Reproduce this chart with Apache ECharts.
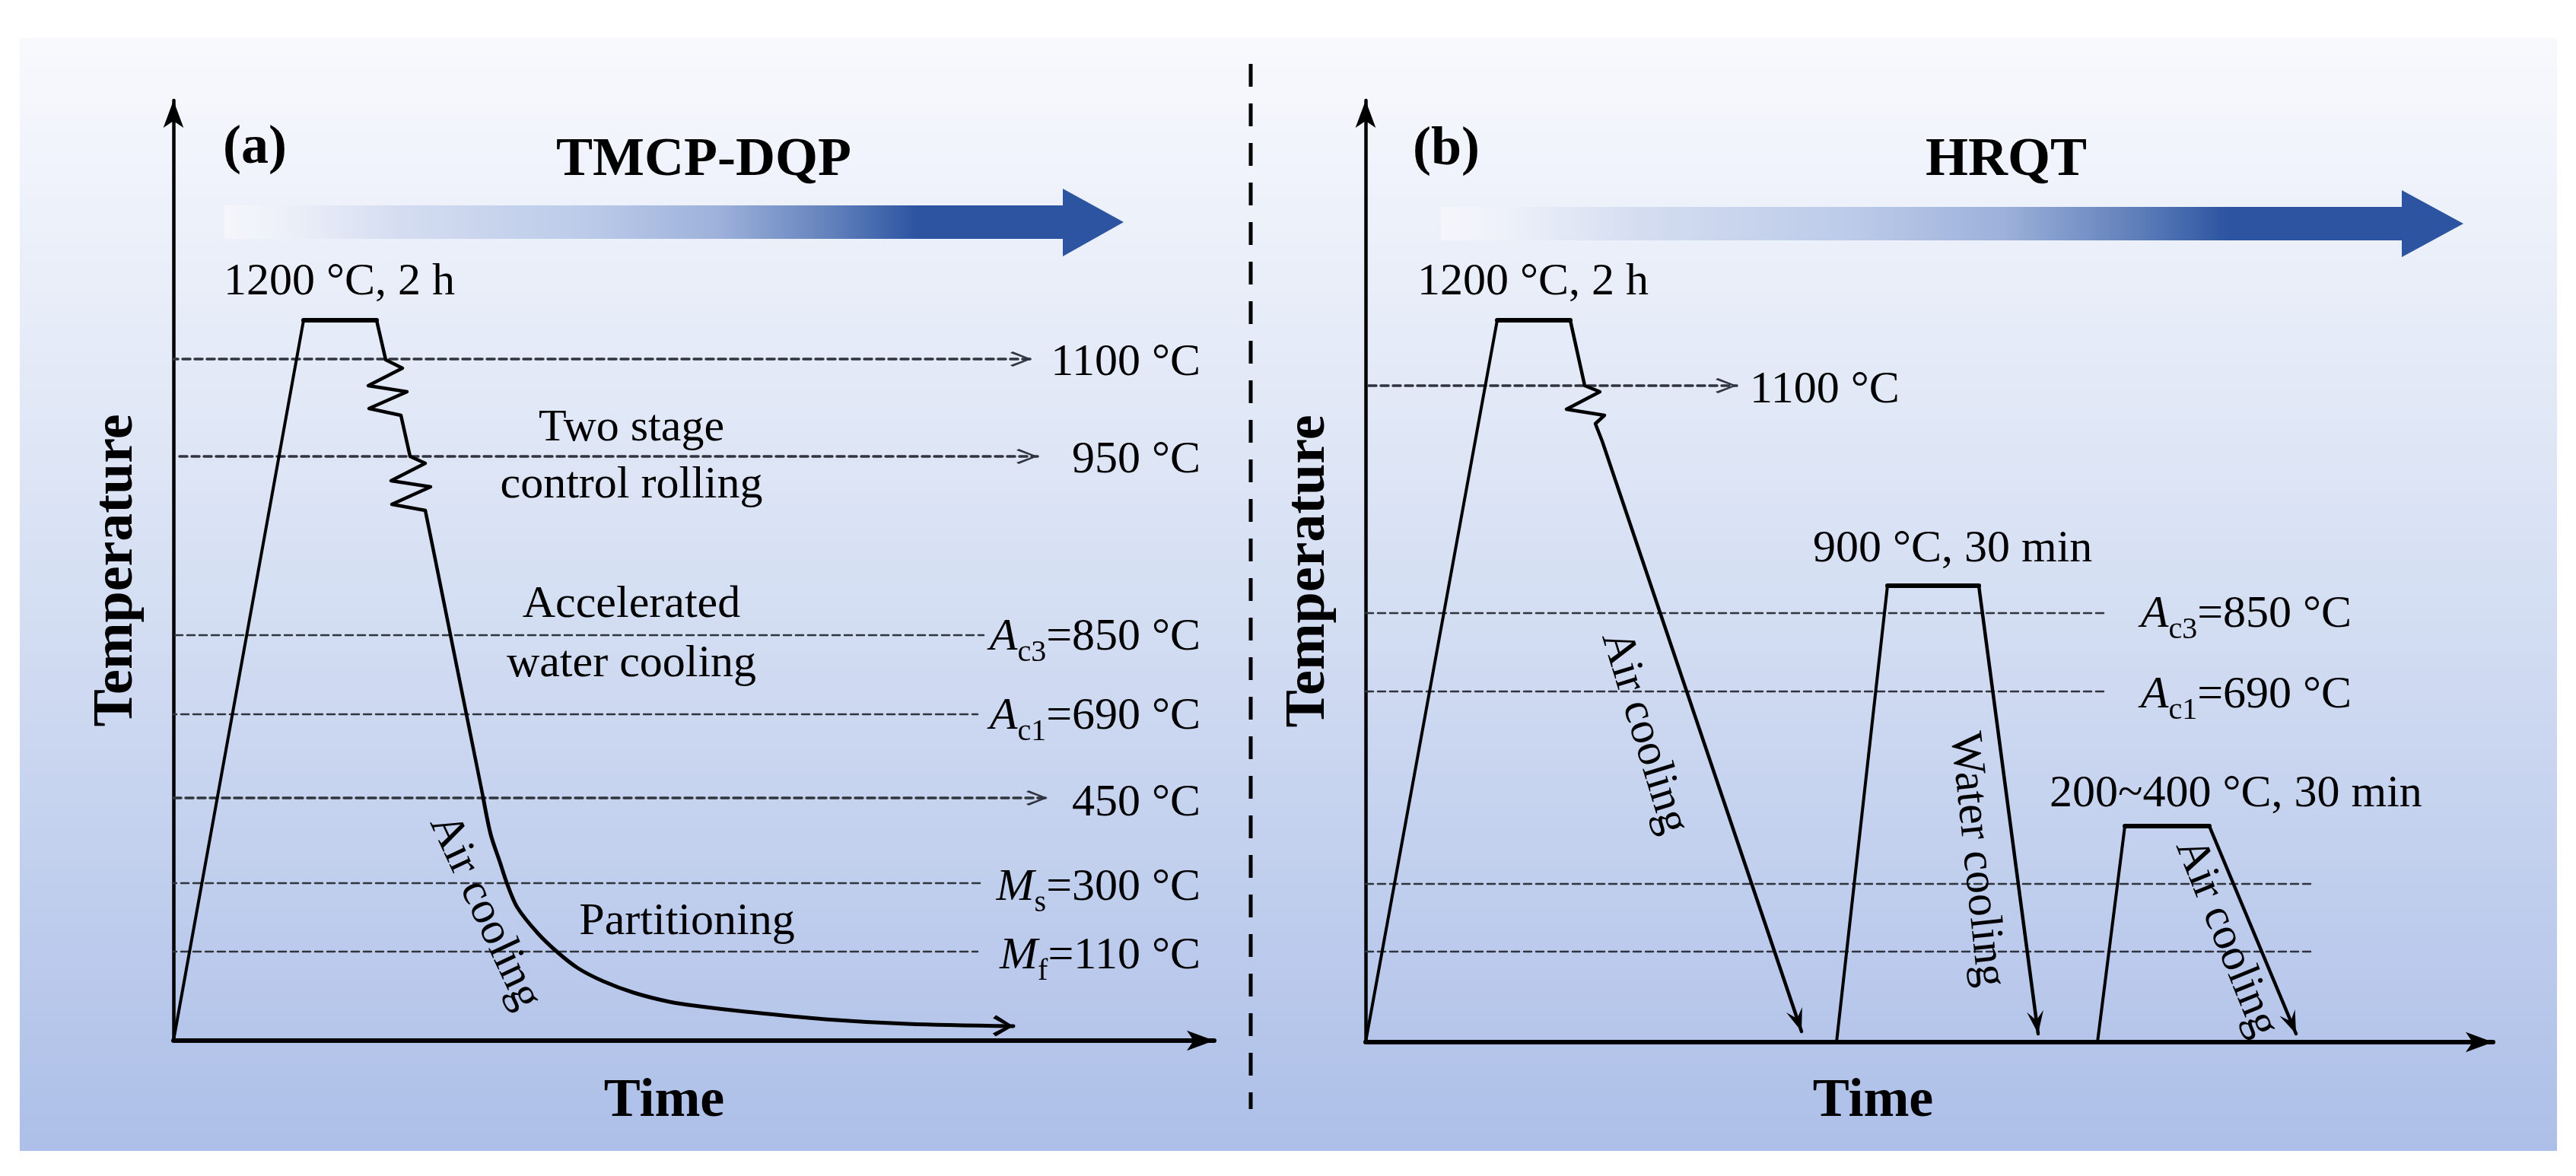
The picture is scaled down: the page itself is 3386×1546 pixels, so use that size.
<!DOCTYPE html>
<html>
<head>
<meta charset="utf-8">
<title>TMCP-DQP and HRQT</title>
<script src="https://cdn.jsdelivr.net/npm/echarts@6/dist/echarts.min.js"></script>
<style>
  html, body { margin: 0; background: #fff; }
  #chart { width: 3386px; height: 1546px; }
</style>
</head>
<body>
<div id="chart"></div>
<script>
// schematic profile: [time, temperature height]
const heatA = [[0, 0], [171, 947]];
const holdA = [[171, 947], [267, 947]];
const rollA = [[267, 947], [279, 895], [301, 884], [256, 861], [307, 853], [257, 831], [299, 822],
    [311, 768], [331, 759], [286, 736], [338, 728], [287, 705], [331, 697], [341, 648], [407, 320]];
const partitionA = [[407, 320], [417, 271], [429, 235], [439, 205], [452, 175], [479, 141], [505, 116],
    [532, 95], [565, 78], [605, 63], [652, 51], [692, 45], [752, 38], [857, 28], [965, 22], [1104, 19]];

const heat1B = [[0, 0], [173, 949]];
const hold1B = [[173, 949], [269, 949]];
const cool1B = [[269, 949], [288, 863], [308, 855], [264, 832], [314, 824], [302, 813], [311, 790], [573, 14]];
const heat2B = [[619, 0], [686, 600]];
const hold2B = [[686, 600], [806, 600]];
const cool2B = [[806, 600], [884, 11]];
const heat3B = [[962, 0], [998, 284]];
const hold3B = [[998, 284], [1109, 284]];
const cool3B = [[1109, 284], [1223, 11]];

// guide lines: height, where they start and stop, and whether they end in an arrow
const guideHeightsA = [896, 768, 533, 429, 319, 207, 117];
const guideStartsA = [-4, 8, 2, -6, 0, -6, -6];
const guideEndsA = [1128, 1136, 1065, 1057, 1149, 1063, 1057];
const guideArrowsA = [true, true, false, false, true, false, false];

const guideHeightsB = [863, 564, 461, 208, 119];
const guideStartsB = [4, 0, 0, 0, 0];
const guideEndsB = [488, 975, 975, 1248, 1248];
const guideArrowsB = [true, false, false, false, false];

const font = '"Liberation Serif", "Times New Roman", serif';

// the box of each path is twice the head length, so its centre sits on the tip
const thinHead = 'path://M10,0 L10,0 Z M10,28 L20,53 L18,56 L10,34 L2,56 L0,53 Z';
const thickHead = 'path://M14,0 L14,0 Z M14,27 L28,50 L24,54 L14,35 L4,54 L0,50 Z';
const barbHead = 'path://M11,0 L11,0 Z M11,30 L22,60 L11,48 L0,60 Z';

function curve(panel, points, width, opts) {
    opts = opts || {};
    const last = points.length - 1;
    const data = points.map((p, i) => {
        if (i < last || !opts.head) return { value: p, symbol: 'none' };
        const prev = points[last - 1];
        const angle = Math.atan2(p[1] - prev[1], p[0] - prev[0]) * 180 / Math.PI - 90;
        return { value: p, symbol: opts.head, symbolSize: opts.headSize, symbolRotate: angle };
    });
    return {
        type: 'line',
        xAxisIndex: panel,
        yAxisIndex: panel,
        data,
        clip: false,
        silent: true,
        showSymbol: true,
        showAllSymbol: true,
        smooth: opts.smooth || false,
        itemStyle: { color: opts.color || '#000', opacity: 1 },
        lineStyle: { color: opts.color || '#000', width, type: opts.dash || 'solid', cap: 'round', join: 'round' },
        z: opts.dash ? 2 : 3,
    };
}

function guides(panel, heights, starts, ends, arrows) {
    return heights.map((h, i) => curve(panel, [[starts[i], h], [ends[i], h]], arrows[i] ? 3.5 : 2.5, {
        color: '#30343e',
        dash: [10, 6],
        head: arrows[i] ? thinHead : null,
        headSize: [20, 56],
    }));
}

const richTemp = {
    n: { fontFamily: font, fontSize: 60, color: '#000', lineHeight: 80 },
    i: { fontFamily: font, fontSize: 60, fontStyle: 'italic', color: '#000', lineHeight: 80 },
    s: { fontFamily: font, fontSize: 40, color: '#000', verticalAlign: 'bottom', lineHeight: 80 },
};

function note(text, x, y, align, rotate, bold) {
    return {
        value: [x, y],
        label: {
            show: true,
            position: 'inside',
            formatter: text,
            align: align,
            verticalAlign: 'middle',
            rotate: rotate || 0,
            fontFamily: font,
            fontSize: bold ? 72 : 60,
            fontWeight: bold ? 'bold' : 'normal',
            color: '#000',
            rich: richTemp,
        },
    };
}

function notes(panel, items) {
    return {
        type: 'scatter',
        xAxisIndex: panel,
        yAxisIndex: panel,
        symbolSize: 1,
        silent: true,
        clip: false,
        itemStyle: { color: 'rgba(0,0,0,0)', opacity: 1 },
        data: items,
        z: 5,
    };
}

function bigArrow(x0, x1, x2, top, bottom, headTop, headBottom) {
    const mid = (top + bottom) / 2;
    return {
        type: 'polygon',
        silent: true,
        z: -5,
        shape: {
            points: [[x0, top], [x1, top], [x1, headTop], [x2, mid], [x1, headBottom], [x1, bottom], [x0, bottom]],
        },
        style: {
            fill: new echarts.graphic.LinearGradient(0, 0, 1, 0, [
                { offset: 0, color: '#f4f6fb' },
                { offset: 0.06, color: '#eef1f9' },
                { offset: 0.2, color: '#d3dcf0' },
                { offset: 0.4, color: '#bccbe9' },
                { offset: 0.55, color: '#9db1da' },
                { offset: 0.68, color: '#5f7fba' },
                { offset: 0.77, color: '#2c54a1' },
                { offset: 1, color: '#2c54a1' },
            ]),
        },
    };
}

function valueAxis(grid, name, max, nameGap, nameSize, shift, line) {
    return {
        type: 'value',
        gridIndex: grid,
        min: 0,
        max,
        name,
        nameLocation: 'middle',
        nameGap,
        nameTextStyle: { fontFamily: font, fontSize: nameSize, fontWeight: 'bold', color: '#000', padding: shift },
        axisLine: line,
        axisLabel: { show: false },
        axisTick: { show: false },
        splitLine: { show: false },
    };
}

const xLine = { show: true, lineStyle: { color: '#000', width: 6 }, symbol: ['none', 'arrow'], symbolSize: [20, 36] };
const yLine = { show: true, lineStyle: { color: '#000', width: 4.5 }, symbol: ['none', 'arrow'], symbolSize: [20, 36] };

const chart = echarts.init(document.getElementById('chart'), null, { renderer: 'canvas' });

chart.setOption({
    animation: false,
    backgroundColor: '#fff',
    graphic: [
        {
            type: 'rect',
            silent: true,
            z: -10,
            shape: { x: 26, y: 50, width: 3335, height: 1463 },
            style: {
                fill: new echarts.graphic.LinearGradient(0, 0, 0, 1, [
                    { offset: 0, color: '#f8f9fd' },
                    { offset: 0.5, color: '#d5dff3' },
                    { offset: 1, color: '#adbfe8' },
                ]),
            },
        },
        {
            type: 'line',
            silent: true,
            z: -5,
            shape: { x1: 1644, y1: 84, x2: 1644, y2: 1458 },
            style: { stroke: '#000', lineWidth: 5, lineDash: [30, 22] },
        },
        bigArrow(295, 1397, 1477, 270, 314, 248, 337),
        bigArrow(1894, 3157, 3238, 272, 316, 250, 338),
    ],
    grid: [
        { left: 228, top: 132, width: 1368, height: 1236 },
        { left: 1795, top: 132, width: 1482, height: 1238 },
    ],
    xAxis: [
        valueAxis(0, 'Time', 1368, 44, 72, [0, 78, 0, 0], xLine),
        valueAxis(1, 'Time', 1482, 42, 72, [0, 148, 0, 0], xLine),
    ],
    yAxis: [
        valueAxis(0, 'Temperature', 1236, 37, 74, 0, yLine),
        valueAxis(1, 'Temperature', 1238, 37, 74, 0, yLine),
    ],
    series: [
        ...guides(0, guideHeightsA, guideStartsA, guideEndsA, guideArrowsA),
        ...guides(1, guideHeightsB, guideStartsB, guideEndsB, guideArrowsB),

        curve(0, heatA, 4),
        curve(0, holdA, 6),
        curve(0, rollA, 4.5),
        curve(0, partitionA, 5, { smooth: 0.3, head: thickHead, headSize: [28, 54] }),

        curve(1, heat1B, 4),
        curve(1, hold1B, 6),
        curve(1, cool1B, 4.5, { head: barbHead, headSize: [22, 60] }),
        curve(1, heat2B, 4),
        curve(1, hold2B, 6),
        curve(1, cool2B, 4.5, { head: barbHead, headSize: [22, 60] }),
        curve(1, heat3B, 4),
        curve(1, hold3B, 6),
        curve(1, cool3B, 4.5, { head: barbHead, headSize: [22, 60] }),

        notes(0, [
            note('(a)', 65, 1173, 'left', 0, true),
            note('TMCP-DQP', 697, 1157, 'center', 0, true),
            note('1200 °C, 2 h', 66, 997, 'left'),
            note('1100 °C', 1350, 891, 'right'),
            note('950 °C', 1350, 763, 'right'),
            note('Two stage', 602, 805, 'center'),
            note('control rolling', 602, 730, 'center'),
            note('Accelerated', 602, 573, 'center'),
            note('water cooling', 602, 495, 'center'),
            note('{i|A}{s|c3}{n|=850 °C}', 1350, 530, 'right'),
            note('{i|A}{s|c1}{n|=690 °C}', 1350, 426, 'right'),
            note('450 °C', 1350, 312, 'right'),
            note('{i|M}{s|s}{n|=300 °C}', 1350, 201, 'right'),
            note('{i|M}{s|f}{n|=110 °C}', 1350, 111, 'right'),
            note('Partitioning', 675, 156, 'center'),
            note('Air cooling', 409, 169, 'center', -65),
        ]),
        notes(1, [
            note('(b)', 62, 1173, 'left', 0, true),
            note('HRQT', 842, 1159, 'center', 0, true),
            note('1200 °C, 2 h', 68, 999, 'left'),
            note('1100 °C', 505, 857, 'left'),
            note('900 °C, 30 min', 588, 648, 'left'),
            note('{i|A}{s|c3}{n|=850 °C}', 1296, 562, 'right'),
            note('{i|A}{s|c1}{n|=690 °C}', 1296, 456, 'right'),
            note('200~400 °C, 30 min', 899, 326, 'left'),
            note('Air cooling', 366, 407, 'center', -73),
            note('Water cooling', 803, 240, 'center', -84),
            note('Air cooling', 1131, 137, 'center', -68),
        ]),
    ],
});

window.addEventListener('resize', chart.resize);
</script>
</body>
</html>
